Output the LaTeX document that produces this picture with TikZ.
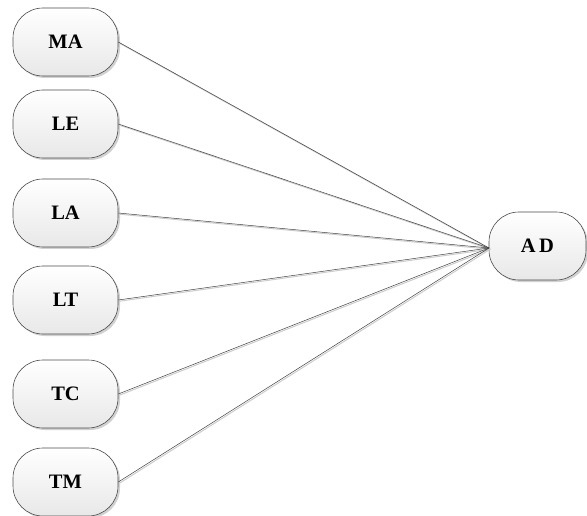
\documentclass[tikz,border=0pt]{standalone}
\usepackage{fontspec}
\setmainfont{Liberation Serif}
\usetikzlibrary{shadows}
\begin{document}
\begin{tikzpicture}[x=1pt,y=-1pt,
  box/.style={draw=black!70, line width=0.6pt, rounded corners=30pt,
    minimum width=105pt, minimum height=68pt, inner sep=0pt,
    top color=white, bottom color=black!9,
    drop shadow={shadow xshift=2pt, shadow yshift=-2pt, fill=black!30, opacity=0.6},
    font=\fontsize{20.5}{24}\selectfont\bfseries},
  link/.style={draw=black!75, line width=0.5pt,
    preaction={draw=black!20, line width=1pt, transform canvas={xshift=1.2pt,yshift=-1.2pt}}}]
\useasboundingbox (0,0) rectangle (587,516);
\node[box] (MA) at (65.5,42) {MA};
\node[box] (LE) at (65.5,124) {LE};
\node[box] (LA) at (65.5,213) {LA};
\node[box] (LT) at (65.5,300) {LT};
\node[box] (TC) at (65.5,394) {TC};
\node[box] (TM) at (65.5,482) {TM};
\node[box, minimum width=97pt] (AD) at (537.5,246) {A\,D};
\coordinate (J) at (489,248);
\foreach \n in {MA,LE,LA,LT,TC,TM}{
  \draw[link] (\n.east) -- (J);
}
\end{tikzpicture}
\end{document}
